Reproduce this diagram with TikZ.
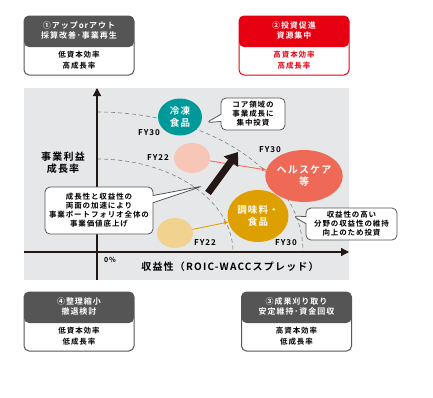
\documentclass[tikz,border=0pt]{standalone}
\usepackage{fontspec}
\setmainfont{Noto Sans CJK JP}[BoldFont={Noto Sans CJK JP Bold}, LetterSpace=12]
\usepackage{tikz}
\usetikzlibrary{shapes.geometric, shapes.callouts, arrows.meta, positioning}
\definecolor{panelgray}{RGB}{230,231,232}
\definecolor{headgray}{RGB}{85,85,85}
\definecolor{strategyred}{RGB}{230,0,18}
\definecolor{inkblack}{RGB}{35,24,21}
\definecolor{frozenteal}{RGB}{0,153,153}
\definecolor{healthred}{RGB}{238,106,86}
\definecolor{healthpink}{RGB}{247,198,182}
\definecolor{seasgold}{RGB}{221,160,0}
\definecolor{seaslight}{RGB}{241,210,142}
\tikzstyle{quad} = [rectangle, rounded corners=5pt, minimum width=110pt, minimum height=59pt, draw=headgray, line width=1pt, fill=white]
\tikzstyle{headtext} = [text=white, align=center, inner sep=0pt, font=\fontsize{8}{10}\selectfont\bfseries]
\tikzstyle{bodytext} = [align=center, inner sep=0pt, font=\fontsize{7.5}{11}\selectfont\bfseries]
\tikzstyle{bubble} = [ellipse, inner sep=0pt, text=white, align=center, font=\fontsize{9.5}{12}\selectfont\bfseries]
\tikzstyle{fylabel} = [inner sep=0pt, font=\fontsize{8}{8}\selectfont\bfseries]
\tikzstyle{axislabel} = [inner sep=0pt, align=center, font=\fontsize{10}{12}\selectfont\bfseries]
\tikzstyle{note} = [rectangle callout, rounded corners=5pt, draw=headgray, line width=0.8pt, fill=white, align=center, inner sep=1pt, font=\fontsize{7.5}{9}\selectfont\bfseries]
\tikzstyle{axis} = [draw=inkblack, line width=1.3pt, -{Triangle[length=8pt,width=8pt]}]
\tikzstyle{band} = [draw=gray, line width=0.6pt, dash pattern=on 4pt off 3pt]
\tikzstyle{move} = [line width=0.8pt, -{Triangle[length=4pt,width=3.5pt]}]
\tikzstyle{bigarrow} = [draw=inkblack, line width=7pt, -{Triangle[length=12pt,width=17pt]}]
\tikzset{header/.style={path picture={\fill[#1] (path picture bounding box.north west) rectangle ([yshift=-31pt]path picture bounding box.north east);}}}

\begin{document}
\begin{tikzpicture}[x=1pt, y=-1pt]
        \useasboundingbox (0,0) rectangle (433,397);

        % Chart panel
        \fill [panelgray] (24,88) rectangle (349,280);

        % Dashed bands
        \draw [band] (97,159) arc [start angle=90, end angle=0, x radius=136pt, y radius=93pt];
        \draw [band] (97,112) arc [start angle=90, end angle=0, x radius=206pt, y radius=140pt];

        % Axes
        \coordinate (ybottom) at (97,280);
        \coordinate (ytop) at (97,88);
        \coordinate (xleft) at (24,252);
        \coordinate (xright) at (349,252);
        \draw [axis] (ybottom) -- (ytop);
        \draw [axis] (xleft) -- (xright);
        \node (ylabel) [axislabel] at (63,163) {事業利益\\成長率};
        \node (xlabel) [axislabel] at (230,267) {収益性（ROIC-WACCスプレッド）};
        \node (zero) [fylabel, font=\fontsize{7}{7}\selectfont\bfseries] at (110,260) {0\%};

        % Business bubbles
        \node (frozen) [bubble, fill=frozenteal, minimum width=44pt, minimum height=37pt] at (180,117) {冷凍\\食品};
        \node (hc22) [bubble, fill=healthpink, minimum width=36pt, minimum height=30pt] at (192,158) {};
        \node (health) [bubble, fill=healthred, minimum width=62pt, minimum height=52pt, font=\fontsize{10}{12}\selectfont\bfseries] at (304,176) {ヘルスケア\\等};
        \node (seas22) [bubble, fill=seaslight, minimum width=36pt, minimum height=30pt] at (175,233) {};
        \node (seas) [bubble, fill=seasgold, minimum width=61pt, minimum height=52pt] at (258,216) {調味料・\\食品};

        % FY labels
        \node (fy30a) [fylabel] at (149,133) {FY30};
        \node (fy22a) [fylabel] at (158,158) {FY22};
        \node (fy30b) [fylabel] at (270,150) {FY30};
        \node (fy22b) [fylabel] at (205,243) {FY22};
        \node (fy30c) [fylabel] at (286,243) {FY30};

        % Shifts
        \draw [move, draw=healthred, fill=healthred] (hc22) -- (health);
        \draw [move, draw=seasgold, fill=seasgold] (seas22) -- (seas);
        \coordinate (growtail) at (208,193);
        \coordinate (growtip) at (238,152);
        \draw [bigarrow] (growtail) -- (growtip);

        % Notes
        \coordinate (corept) at ([xshift=5pt]frozen.-15);
        \coordinate (accelpt) at (203,186);
        \coordinate (keeppt) at ([xshift=4pt]seas.east);
        \node (core) [note, minimum width=64pt, minimum height=32pt, callout absolute pointer={(corept)}] at (253,114) {コア領域の\\事業成長に\\集中投資};
        \node (accel) [note, minimum width=108pt, minimum height=47pt, callout absolute pointer={(accelpt)}] at (99,210.5) {成長性と収益性の\\両面の加速により\\事業ポートフォリオ全体の\\事業価値底上げ};
        \node (keep) [note, minimum width=91pt, minimum height=32pt, callout absolute pointer={(keeppt)}] at (351.5,224) {収益性の高い\\分野の収益性の維持\\向上のため投資};

        % Quadrant boxes
        \node (q1) [quad, header=headgray] at (79,45.5) {};
        \node (q1head) [headtext] at ([yshift=-15pt]q1.north) {①アップorアウト\\採算改善･事業再生};
        \node (q1body) [bodytext] at ([yshift=15pt]q1.south) {低資本効率\\高成長率};

        \node (q2) [quad, draw=strategyred, header=strategyred] at (294,45.5) {};
        \node (q2head) [headtext] at ([yshift=-15pt]q2.north) {②投資促進\\資源集中};
        \node (q2body) [bodytext, text=strategyred] at ([yshift=15pt]q2.south) {高資本効率\\高成長率};

        \node (q4) [quad, header=headgray] at (79,321.5) {};
        \node (q4head) [headtext] at ([yshift=-15pt]q4.north) {④整理縮小\\撤退検討};
        \node (q4body) [bodytext] at ([yshift=15pt]q4.south) {低資本効率\\低成長率};

        \node (q3) [quad, header=headgray] at (296.5,321.5) {};
        \node (q3head) [headtext] at ([yshift=-15pt]q3.north) {③成果刈り取り\\安定維持･資金回収};
        \node (q3body) [bodytext] at ([yshift=15pt]q3.south) {高資本効率\\低成長率};
\end{tikzpicture}
\end{document}
